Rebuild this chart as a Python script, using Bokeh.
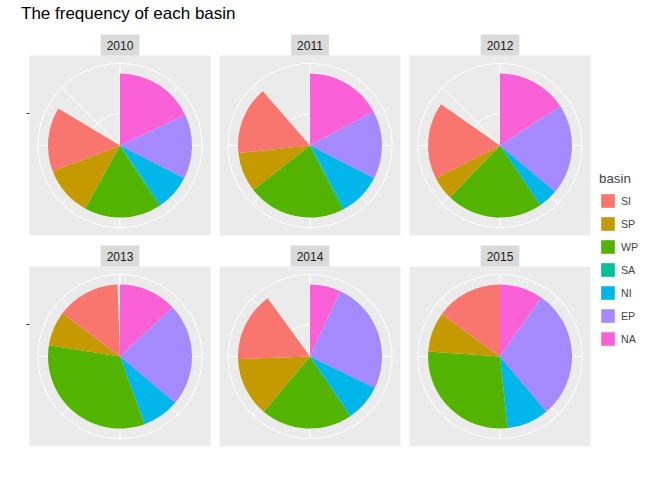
import numpy as np
from bokeh.plotting import figure
from bokeh.models import (ColumnDataSource, Div, LinearAxis, FixedTicker,
                          Legend, LegendItem)
from bokeh.layouts import column, row, gridplot
from bokeh.embed import file_html
from bokeh.resources import INLINE

# data: counts, in stacking order from 12 o'clock clockwise
years = ["2010", "2011", "2012", "2013", "2014", "2015"]
stack_order = ["NA", "EP", "NI", "SA", "WP", "SP", "SI"]
counts = {
    "2010": [65, 52, 28, 2, 62, 40, 52],
    "2011": [62, 55, 34, 2, 79, 32, 55],
    "2012": [57, 73, 16, 0, 78, 19, 62],
    "2013": [47, 83, 30, 0, 119, 28, 51],
    "2014": [25, 91, 30, 0, 74, 48, 56],
    "2015": [35, 105, 34, 0, 100, 32, 54],
}
legend_order = ["SI", "SP", "WP", "SA", "NI", "EP", "NA"]
palette = {"SI": "#F8766D", "SP": "#C49A00", "WP": "#53B400", "SA": "#00C094",
           "NI": "#00B6EB", "EP": "#A58AFF", "NA": "#FB61D7"}

y_max = max(sum(v) for v in counts.values())
y_breaks = [0, 13, 26, 39, 52, 65, 78, 91]
y_breaks = [b * y_max / 104 for b in y_breaks]


def to_angle(v):
    # ggplot polar: clockwise from north -> bokeh: ccw from east
    return np.pi / 2 - 2 * np.pi * np.asarray(v) / y_max


panels = []
for i, yr in enumerate(years):
    vals = np.array(counts[yr], dtype=float)
    ends = np.cumsum(vals)
    starts = ends - vals
    keep = vals > 0
    src = ColumnDataSource(dict(
        basin=[b for b, k in zip(stack_order, keep) if k],
        start=to_angle(starts[keep]), end=to_angle(ends[keep]),
        color=[palette[b] for b, k in zip(stack_order, keep) if k]))
    left = i % 3 == 0
    p = figure(frame_width=181, frame_height=180, x_range=(-1.257, 1.257),
               y_range=(-1.25, 1.25), x_axis_type=None, y_axis_type=None,
               output_backend="svg", toolbar_location=None,
               min_border_left=29 if left else 0, min_border_right=9,
               min_border_bottom=8, min_border_top=0)
    p.background_fill_color = "#EBEBEB"
    p.border_fill_color = "white"
    p.outline_line_color = None
    p.grid.visible = False
    p.title.text = yr
    p.title.align = "center"
    p.title.background_fill_color = "#D9D9D9"
    p.title.text_font_size = "9pt"
    p.title.text_font = "Liberation Sans"
    p.title.text_font_style = "normal"
    p.title.text_color = "#1A1A1A"
    p.title.standoff = 0
    p.title.offset = 0
    p.title.padding = 6
    # polar grid
    p.circle(x=[0, 0], y=[0, 0], radius=[0.44, 1.14], fill_color=None,
             line_color="white", line_width=1)
    p.ray(x=0, y=0, length=1.14, angle=to_angle(y_breaks), line_color="white",
          line_width=1)
    p.wedge(x=0, y=0, radius=1.0, start_angle="start", end_angle="end",
            direction="clock", fill_color="color", line_color=None, source=src)
    if left:
        ax = LinearAxis(ticker=FixedTicker(ticks=[0.44]),
                        major_label_overrides={0.44: ""},
                        major_label_text_font_size="1px",
                        major_label_standoff=0, axis_line_color=None,
                        major_tick_line_color="#333333", major_tick_out=3,
                        major_tick_in=0, minor_tick_line_color=None)
        p.add_layout(ax, "left")
    panels.append(p)

grid = gridplot(panels, ncols=3, toolbar_location=None)

# legend
lp = figure(width=85, height=424, x_range=(0, 1), y_range=(0, 1),
            x_axis_type=None, y_axis_type=None, output_backend="svg",
            toolbar_location=None, min_border=0)
lp.outline_line_color = None
lp.grid.visible = False
items = []
for b in legend_order:
    r = lp.rect(x=[5], y=[5], width=1, height=1, fill_color=palette[b],
                line_color=None)
    items.append(LegendItem(label=b, renderers=[r]))
leg = Legend(items=items, location=(0, 109), title="basin",
             title_text_font_size="10pt", title_text_font_style="normal",
             title_text_font="Liberation Sans", title_standoff=6,
             label_text_font="Liberation Sans", label_text_font_size="8pt",
             glyph_width=17, glyph_height=17, spacing=6, padding=0, margin=0,
             border_line_color=None, background_fill_alpha=0)
lp.add_layout(leg, "center")

title = Div(text="The frequency of each basin", width=600, height=25,
            styles={"font-family": "Liberation Sans", "font-size": "17px",
                    "color": "black", "margin-left": "21px",
                    "margin-top": "2px"})

layout = column(title, row(grid, lp))
open("out.html", "w").write(file_html(layout, INLINE))
